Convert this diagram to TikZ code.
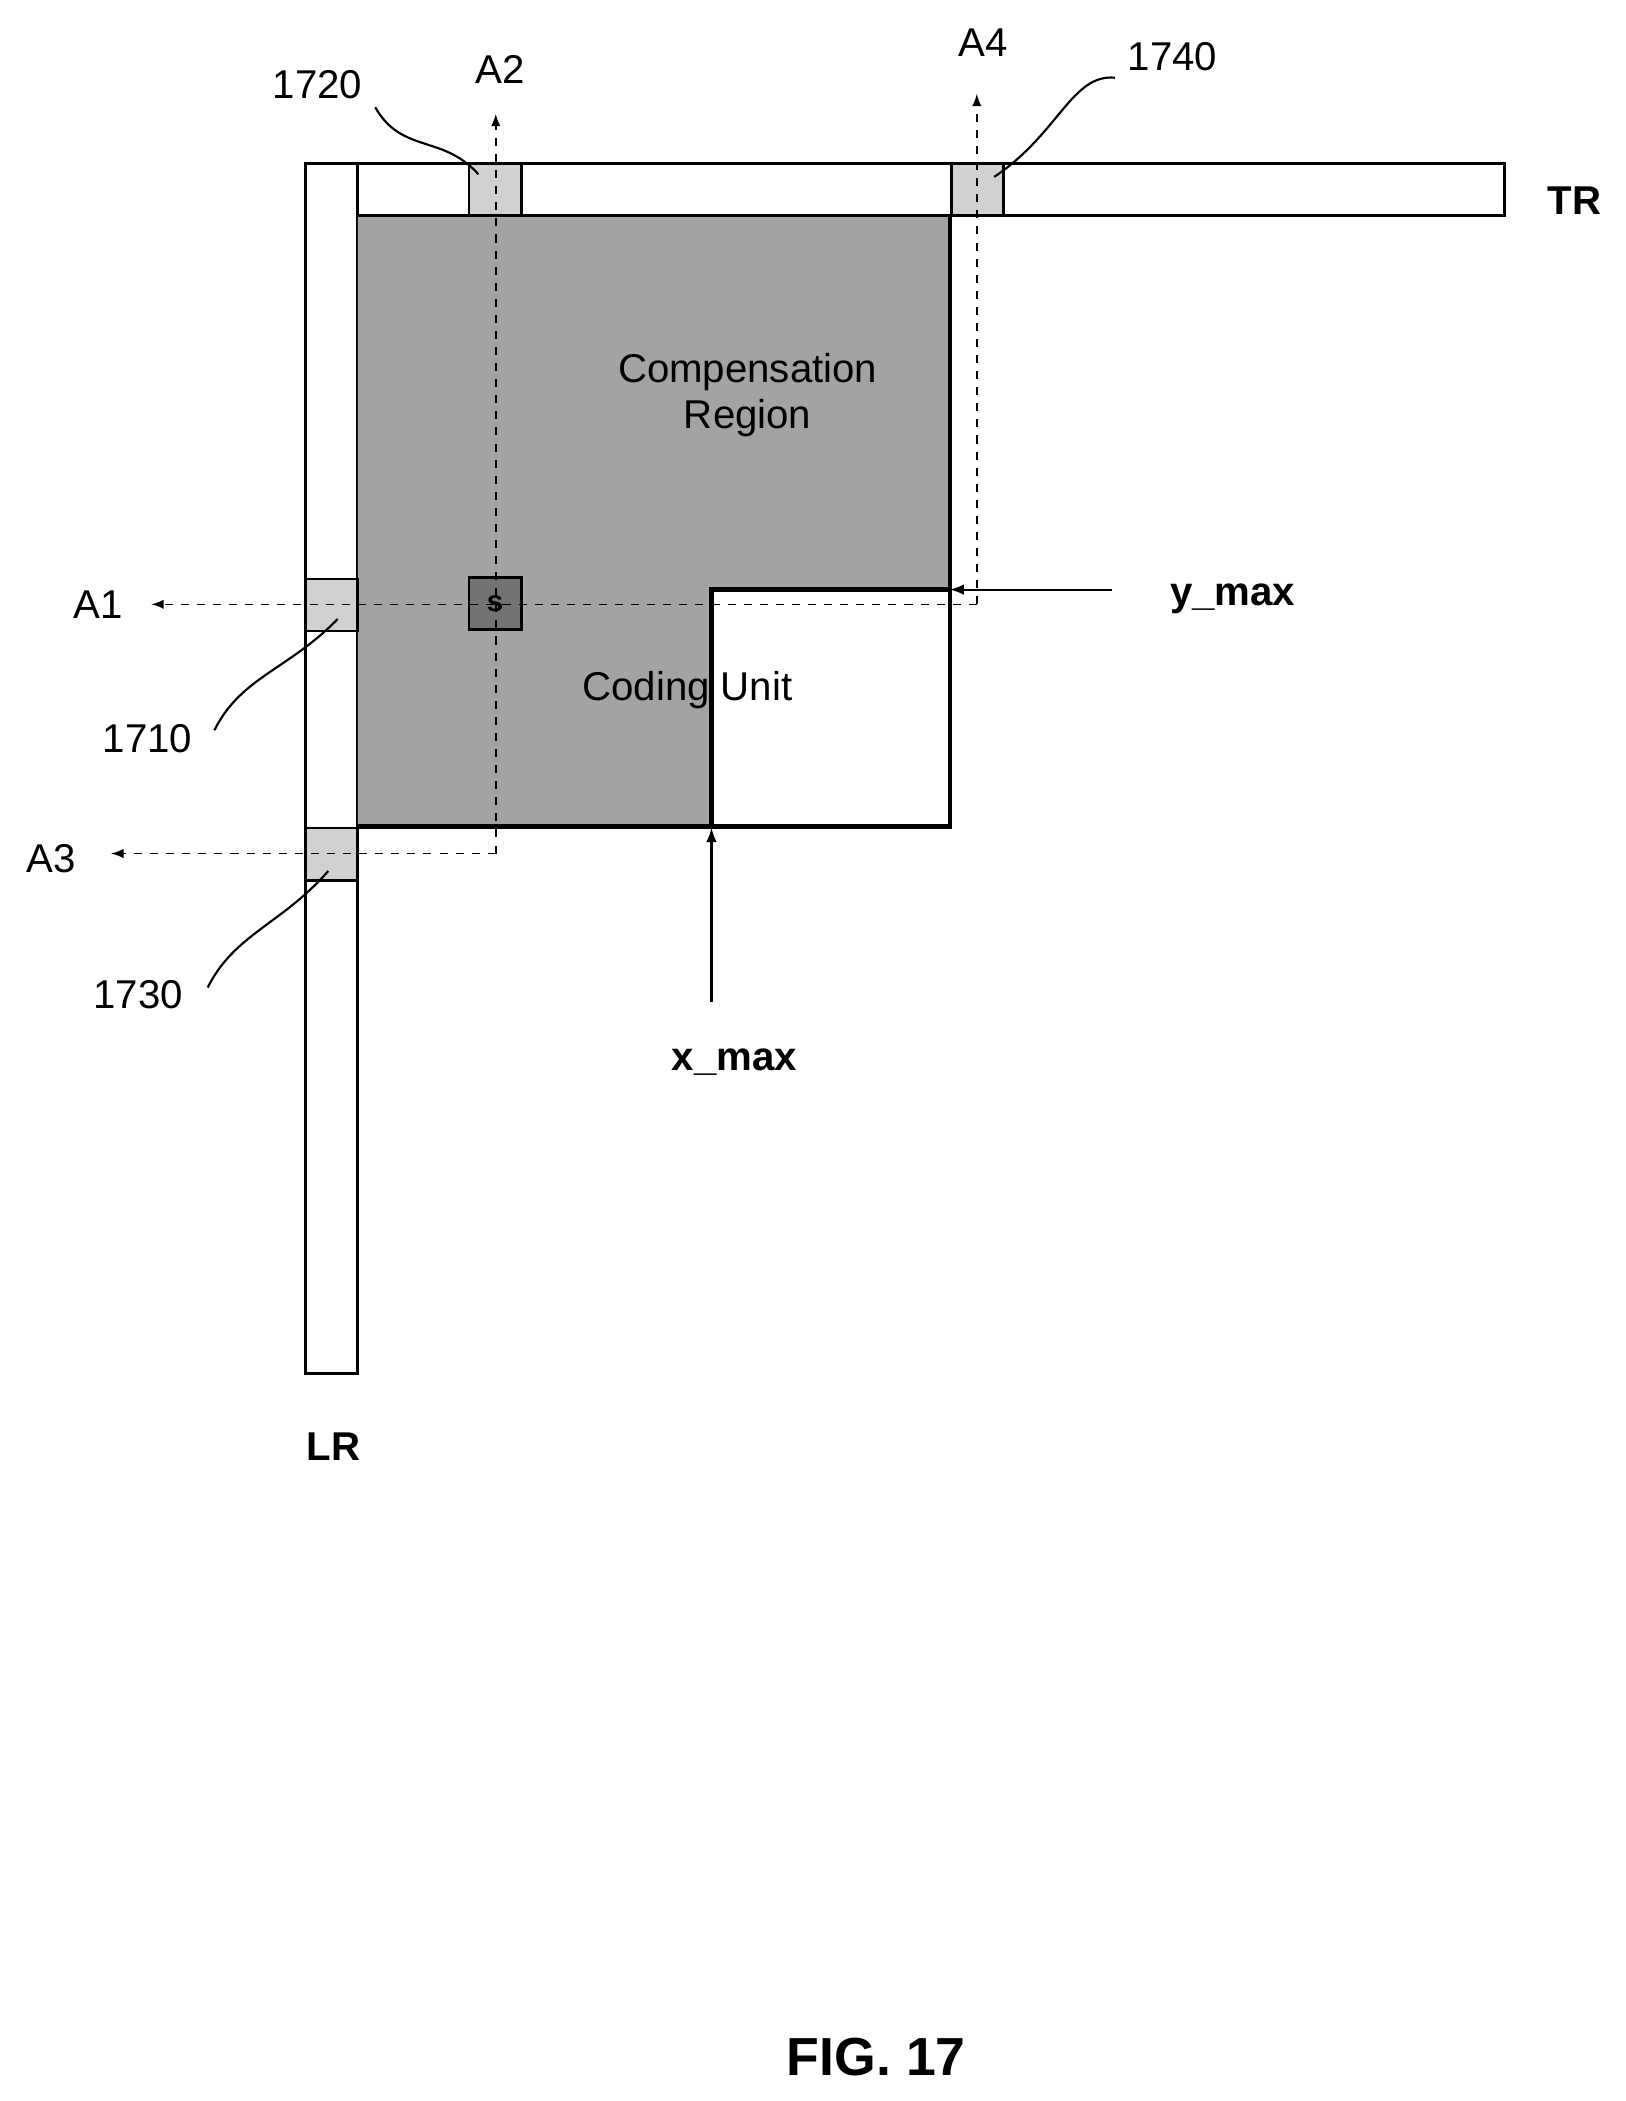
\documentclass[tikz,border=0pt]{standalone}
\usepackage{fontspec}
\setmainfont{Liberation Sans}
\begin{document}
\begin{tikzpicture}[x=0.5pt,y=-0.5pt,
  lbl/.style={font=\fontsize{15}{17}\selectfont},
  blbl/.style={font=\bfseries\fontsize{15}{17}\selectfont},
  sq/.style={draw,line width=1pt,fill=black!18},
  dsh/.style={dashed,line width=0.6pt,-latex},
  lead/.style={line width=0.8pt}]
\useasboundingbox (0,0) rectangle (1213,1568);
% bars
\draw[line width=1.2pt,fill=white] (228,122) rectangle (1123,161);
\draw[line width=1.2pt,fill=white] (228,122) rectangle (267,1025);
% compensation region
\fill[black!36] (267,161) -- (709,161) -- (709,440) -- (531,440) -- (531,617) -- (267,617) -- cycle;
\draw[line width=1.8pt] (709,161) -- (709,617) -- (267,617);
\draw[line width=1.8pt] (531,617) -- (531,440) -- (709,440);
\draw[line width=1.2pt] (267,161) -- (709,161);
% squares
\node[sq,minimum size=19.5pt,inner sep=0pt] (q1720) at (369.5,141.5) {};
\node[sq,minimum size=19.5pt,inner sep=0pt] (q1740) at (729.5,141.5) {};
\node[sq,minimum size=19.5pt,inner sep=0pt] (q1710) at (247.5,451.5) {};
\node[sq,minimum size=19.5pt,inner sep=0pt] (q1730) at (247.5,637.5) {};
\node[draw,line width=1pt,fill=black!55,minimum size=19.5pt,inner sep=0pt,font=\bfseries\fontsize{11}{12}\selectfont] (s) at (369.5,450.5) {s};
% dashed arrows
\coordinate (dA2) at (370,85); \coordinate (dA4) at (729,70);
\coordinate (dA1) at (113,451); \coordinate (dA3) at (83,637);
\coordinate (c37) at (370,637); \coordinate (c72) at (729,451);
\draw[dsh] (c37) -- (dA2);
\draw[dsh] (c72) -- (dA4);
\draw[dsh] (c72) -- (dA1);
\draw[dsh] (c37) -- (dA3);
\node[lbl] (A2) at (373,52) {A2};
\node[lbl] (A4) at (734,32) {A4};
\node[lbl] (A1) at (73,451) {A1};
\node[lbl] (A3) at (38,641) {A3};
% texts
\node[lbl,align=center] (comp) at (558,295) {Compensation\\Region};
\node[lbl] (cu) at (513,515) {Coding Unit};
% y_max, x_max
\coordinate (ym0) at (830,440); \coordinate (ym1) at (709,440);
\draw[line width=0.8pt,-latex] (ym0) -- (ym1);
\node[blbl] (ymax) at (920,447) {y\_max};
\coordinate (xm0) at (531,748); \coordinate (xm1) at (531,618);
\draw[line width=0.8pt,-latex] (xm0) -- (xm1);
\node[blbl] (xmax) at (548,793) {x\_max};
\node[blbl] (TR) at (1175,150) {TR};
\node[blbl] (LR) at (249,1080) {LR};
\node[font=\bfseries\fontsize{20}{22}\selectfont] (fig) at (654,1535) {FIG. 17};
% reference numerals
\node[lbl] (n1720) at (237,63) {1720};
\node[lbl] (n1740) at (875,42) {1740};
\node[lbl] (n1710) at (110,551) {1710};
\node[lbl] (n1730) at (103,742) {1730};
\draw[lead] (280,80) .. controls (300,115) and (330,100) .. (357,130);
\draw[lead] (832,58) .. controls (800,55) and (790,100) .. (742,132);
\draw[lead] (160,545) .. controls (180,505) and (215,500) .. (252,462);
\draw[lead] (155,737) .. controls (175,697) and (210,690) .. (245,650);
\end{tikzpicture}
\end{document}
